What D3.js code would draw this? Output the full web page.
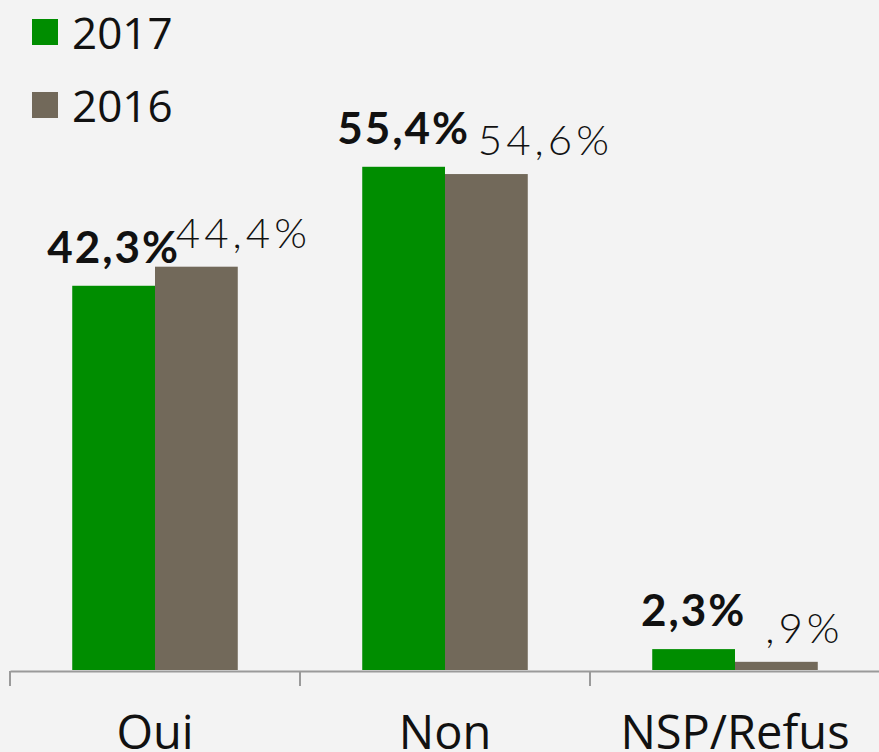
<!DOCTYPE html>
<html>
<head>
<meta charset="utf-8">
<script src="https://cdn.jsdelivr.net/npm/d3@7"></script>
<style>
  html, body { margin: 0; padding: 0; background: #f3f3f3; }
  svg { display: block; }
</style>
</head>
<body>
<div id="viz"></div>
<script>
// categories and series values
var categories = ["Oui", "Non", "NSP/Refus"];
var years = ["2017", "2016"];
var values2017 = [42.3, 55.4, 2.3];
var values2016 = [44.4, 54.6, 0.9];
var labels2017 = ["42,3%", "55,4%", "2,3%"];
var labels2016 = ["44,4%", "54,6%", ",9%"];

var w = 879;
var h = 752;
var baseY = 670;

var colors = { "2017": "#008d00", "2016": "#72695a" };

var svg = d3.select("div#viz")
  .append("svg")
  .attr("width", w)
  .attr("height", h);

svg.append("rect")
  .attr("width", w)
  .attr("height", h)
  .attr("fill", "#f3f3f3");

// scales
var x = d3.scaleBand().domain(categories).range([10, 880]).paddingInner(0).paddingOuter(0);
var x1 = d3.scaleBand().domain(years).range([0, x.bandwidth()]).paddingInner(0).paddingOuter(0.752);
var y = d3.scaleLinear().domain([0, 60]).range([baseY, baseY - 545]);

var rows = categories.map(function (c, i) {
  return { cat: c, i: i, vals: [
    { year: "2017", v: values2017[i], label: labels2017[i] },
    { year: "2016", v: values2016[i], label: labels2016[i] }
  ] };
});

var groups = svg.selectAll("g.grp").data(rows).enter().append("g")
  .attr("class", "grp")
  .attr("transform", function (d) { return "translate(" + x(d.cat) + ",0)"; });

groups.selectAll("rect").data(function (d) { return d.vals; }).enter().append("rect")
  .attr("x", function (d) { return x1(d.year); })
  .attr("y", function (d) { return y(d.v); })
  .attr("width", x1.bandwidth())
  .attr("height", function (d) { return y(0) - y(d.v); })
  .attr("fill", function (d) { return colors[d.year]; });

// value labels (2016 labels were nudged by hand in the original)
var nudge2016 = [47, 59, 28];

groups.append("text")
  .text(function (d) { return d.vals[0].label; })
  .attr("x", x1("2017") + x1.bandwidth() / 2)
  .attr("y", function (d) { return y(d.vals[0].v) - 23; })
  .attr("text-anchor", "middle")
  .style("font-family", "Lato, 'Open Sans', sans-serif")
  .style("font-weight", "bold")
  .style("font-size", "44px")
  .style("letter-spacing", "2px")
  .style("fill", "#111");

groups.append("text")
  .text(function (d) { return d.vals[1].label; })
  .attr("x", function (d) { return x1("2016") + x1.bandwidth() / 2 + nudge2016[d.i]; })
  .attr("y", function (d) { return y(d.vals[1].v) - 19; })
  .attr("text-anchor", "middle")
  .style("font-family", "Lato, 'Open Sans', sans-serif")
  .style("font-weight", "300")
  .style("font-size", "42px")
  .style("letter-spacing", "4px")
  .style("fill", "#111");

// x axis
var xAxis = d3.axisBottom(x).tickSize(0).tickFormat("");
var axisG = svg.append("g").attr("transform", "translate(0," + (baseY + 1) + ")").call(xAxis);
axisG.select(".domain").attr("stroke", "#9a9a9a").attr("stroke-width", 2);

// category separators
svg.selectAll("line.sep").data(categories.concat(["end"])).enter().append("line")
  .attr("class", "sep")
  .attr("x1", function (d, i) { return 10 + i * x.step(); })
  .attr("x2", function (d, i) { return 10 + i * x.step(); })
  .attr("y1", baseY + 1)
  .attr("y2", baseY + 16)
  .attr("stroke", "#9a9a9a")
  .attr("stroke-width", 2);

// category labels
svg.selectAll("text.cat").data(categories).enter().append("text")
  .attr("class", "cat")
  .text(function (d) { return d; })
  .attr("x", function (d) { return x(d) + x.bandwidth() / 2; })
  .attr("y", 749)
  .attr("text-anchor", "middle")
  .style("font-family", "'Open Sans', sans-serif")
  .style("font-size", "47px")
  .style("fill", "#111");

// legend
var legend = svg.selectAll("g.leg").data(years).enter().append("g")
  .attr("class", "leg")
  .attr("transform", function (d, i) { return "translate(32," + (19 + i * 73) + ")"; });

legend.append("rect")
  .attr("width", 26)
  .attr("height", 26)
  .attr("fill", function (d) { return colors[d]; });

legend.append("text")
  .text(function (d) { return d; })
  .attr("x", 40)
  .attr("y", 30)
  .style("font-family", "'Open Sans', sans-serif")
  .style("font-size", "44px")
  .style("fill", "#111");
</script>
</body>
</html>
